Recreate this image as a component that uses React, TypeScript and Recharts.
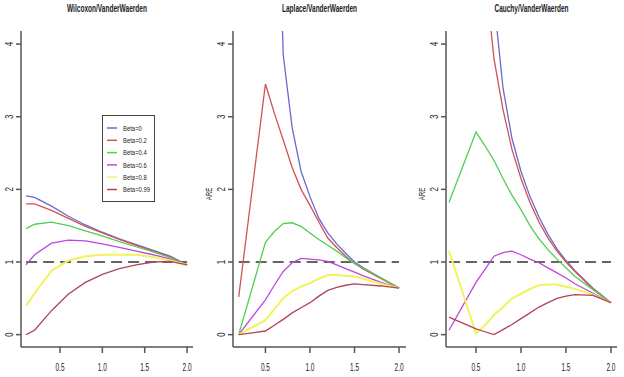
import React from "react";
import { LineChart, Line, XAxis, YAxis, ReferenceLine } from "recharts";

const FONT = "'Liberation Sans', Arial, sans-serif";

const betaLabels = ["Beta=0", "Beta=0.2", "Beta=0.4", "Beta=0.6", "Beta=0.8", "Beta=0.99"];
const betaColors = ["#6868d4", "#d25252", "#52cf52", "#c046e0", "#f2f25a", "#b0445a"];

const xTicks = [0.5, 1.0, 1.5, 2.0];
const yTicks = [0, 1, 2, 3, 4];

// Wilcoxon / VanderWaerden
const wilX = [0.1, 0.2, 0.4, 0.6, 0.8, 1.0, 1.2, 1.4, 1.6, 1.8, 2.0];
const wilB0 = [1.91, 1.89, 1.77, 1.63, 1.51, 1.41, 1.32, 1.24, 1.16, 1.08, 0.96];
const wilB2 = [1.8, 1.8, 1.71, 1.6, 1.49, 1.4, 1.31, 1.23, 1.15, 1.07, 0.96];
const wilB4 = [1.46, 1.52, 1.55, 1.5, 1.43, 1.36, 1.28, 1.21, 1.14, 1.06, 0.96];
const wilB6 = [0.96, 1.1, 1.26, 1.3, 1.29, 1.25, 1.2, 1.15, 1.1, 1.04, 0.96];
const wilB8 = [0.4, 0.57, 0.88, 1.02, 1.08, 1.1, 1.1, 1.1, 1.07, 1.02, 0.96];
const wilB99 = [0.0, 0.06, 0.33, 0.56, 0.72, 0.83, 0.91, 0.96, 1.0, 1.01, 0.96];

// Laplace / VanderWaerden
const lapX = [0.2, 0.5, 0.6, 0.7, 0.8, 0.9, 1.0, 1.1, 1.2, 1.3, 1.4, 1.5, 1.6, 1.8, 2.0];
const lapB0 = [40, 14, 8, 3.85, 2.85, 2.25, 1.9, 1.6, 1.4, 1.25, 1.12, 1.0, 0.92, 0.78, 0.64];
const lapB2 = [0.52, 3.45, 3.05, 2.68, 2.3, 2.0, 1.78, 1.55, 1.33, 1.2, 1.08, 0.98, 0.9, 0.77, 0.64];
const lapB4 = [0.0, 1.27, 1.42, 1.53, 1.54, 1.49, 1.4, 1.31, 1.23, 1.15, 1.06, 0.98, 0.91, 0.78, 0.64];
const lapB6 = [0.0, 0.48, 0.68, 0.87, 0.99, 1.05, 1.04, 1.03, 1.01, 0.96, 0.91, 0.86, 0.81, 0.72, 0.64];
const lapB8 = [0.0, 0.2, 0.35, 0.5, 0.6, 0.66, 0.71, 0.77, 0.82, 0.82, 0.81, 0.8, 0.77, 0.7, 0.64];
const lapB99 = [0.0, 0.05, 0.13, 0.21, 0.3, 0.37, 0.44, 0.53, 0.61, 0.65, 0.68, 0.7, 0.69, 0.67, 0.64];

// Cauchy / VanderWaerden
const cauX = [0.2, 0.5, 0.6, 0.7, 0.8, 0.9, 1.0, 1.1, 1.2, 1.3, 1.4, 1.5, 1.6, 1.8, 2.0];
const cauB0 = [60, 20, 10, 4.6, 3.4, 2.7, 2.25, 1.9, 1.62, 1.38, 1.18, 1.02, 0.88, 0.64, 0.44];
const cauB2 = [50, 15, 5.0, 3.8, 3.1, 2.55, 2.15, 1.82, 1.55, 1.33, 1.15, 1.0, 0.87, 0.63, 0.44];
const cauB4 = [1.82, 2.79, 2.6, 2.4, 2.15, 1.92, 1.72, 1.5, 1.32, 1.17, 1.04, 0.92, 0.8, 0.62, 0.44];
const cauB6 = [0.06, 0.72, 0.9, 1.08, 1.13, 1.15, 1.1, 1.04, 0.99, 0.92, 0.85, 0.78, 0.7, 0.57, 0.44];
const cauB8 = [1.15, 0.02, 0.13, 0.27, 0.38, 0.5, 0.56, 0.63, 0.68, 0.69, 0.69, 0.66, 0.63, 0.55, 0.44];
const cauB99 = [0.24, 0.08, 0.04, 0.0, 0.07, 0.14, 0.22, 0.3, 0.38, 0.44, 0.5, 0.53, 0.55, 0.54, 0.44];

const keys = ["b0", "b2", "b4", "b6", "b8", "b99"];

function buildRows(xs: number[], series: number[][]) {
  return xs.map((x, i) => {
    const row: Record<string, number> = { x };
    series.forEach((s, j) => (row[keys[j]] = s[i]));
    return row;
  });
}

// R output here is squeezed sideways, so text is drawn narrowed
const NarrowText = ({ x, y, rotate = 0, sx = 0.62, sy = 1, size = 10.5, weight = "normal", children }: any) => (
  <text
    transform={`translate(${x} ${y}) rotate(${rotate}) scale(${sx} ${sy})`}
    textAnchor="middle"
    fontSize={size}
    fontWeight={weight}
    fontFamily={FONT}
    fill="#222"
  >
    {children}
  </text>
);

const YTick = (props: any) => {
  const { x, y, payload } = props;
  return (
    <NarrowText x={x - 1} y={y} rotate={-90} sx={0.75}>
      {payload.value}
    </NarrowText>
  );
};

const XTick = (props: any) => {
  const { x, y, payload } = props;
  return (
    <NarrowText x={x} y={y + 16}>
      {payload.value.toFixed(1)}
    </NarrowText>
  );
};

type PanelProps = {
  title: string;
  titleWidth: number;
  rows: Record<string, number>[];
  xDomain: [number, number];
  dashFrom: number;
  boxLeft: number;
  boxRight: number;
  yLabel?: boolean;
};

const W = 624;
const H = 377;
const TOP = 31;
const BOTTOM = 347;

function Panel({ title, titleWidth, rows, xDomain, dashFrom, boxLeft, boxRight, yLabel }: PanelProps) {
  const mid = (boxLeft + boxRight) / 2;
  return (
    <>
      <svg style={{ position: "absolute", left: 0, top: 0 }} width={W} height={20}>
        <text
          x={mid - titleWidth / 2}
          y={12}
          textLength={titleWidth}
          lengthAdjust="spacingAndGlyphs"
          fontSize={10.5}
          fontWeight="bold"
          fontFamily={FONT}
          fill="#222"
        >
          {title}
        </text>
      </svg>
      <div style={{ position: "absolute", left: 0, top: 0 }}>
        <LineChart
          width={W}
          height={H}
          data={rows}
          margin={{ top: TOP, bottom: H - BOTTOM - 25, left: boxLeft - 20, right: W - boxRight }}
        >
          <XAxis
            dataKey="x"
            type="number"
            domain={xDomain}
            allowDataOverflow
            ticks={xTicks}
            tick={<XTick />}
            tickSize={6}
            height={25}
            stroke="#555"
            strokeWidth={1.5}
          />
          <XAxis xAxisId="top" orientation="top" dataKey="x" type="number" domain={xDomain} allowDataOverflow tick={false} tickLine={false} height={0} stroke="#555" strokeWidth={1.5} />
          <YAxis
            type="number"
            domain={[-0.17, 4.18]}
            allowDataOverflow
            ticks={yTicks}
            tick={<YTick />}
            tickSize={5}
            width={20}
            stroke="#555"
            strokeWidth={1.5}
            label={
              yLabel
                ? (p: any) => {
                    const vb = p.viewBox;
                    return (
                      <NarrowText x={vb.x - 1} y={vb.y + vb.height / 2 + 5} rotate={-90} sx={0.68} size={9}>
                        ARE
                      </NarrowText>
                    );
                  }
                : undefined
            }
          />
          <YAxis yAxisId="right" orientation="right" type="number" domain={[-0.17, 4.18]} tick={false} tickLine={false} width={0} stroke="#555" strokeWidth={1.5} />
          <ReferenceLine
            segment={[
              { x: dashFrom, y: 1 },
              { x: 2.0, y: 1 },
            ]}
            stroke="#333"
            strokeWidth={1.6}
            strokeDasharray="11 6"
          />
          {keys.map((k, i) => (
            <Line
              key={k}
              dataKey={k}
              type="linear"
              stroke={betaColors[i]}
              strokeWidth={i === 4 ? 2 : 1.3}
              dot={false}
              isAnimationActive={false}
            />
          ))}
        </LineChart>
      </div>
    </>
  );
}

function BetaLegend() {
  return (
    <svg style={{ position: "absolute", left: 102, top: 115 }} width={55} height={89}>
      <rect x={0.5} y={0.5} width={52} height={86} fill="#fff" stroke="#444" strokeWidth={1} />
      {betaLabels.map((l, i) => {
        const y = 13 + i * 12.3;
        return (
          <g key={l}>
            <line x1={5} x2={15} y1={y} y2={y} stroke={betaColors[i]} strokeWidth={1.5} />
            <text
              transform={`translate(21 ${y + 2.8}) scale(0.74 1)`}
              fontSize={8}
              fontFamily={FONT}
              fill="#222"
            >
              {l}
            </text>
          </g>
        );
      })}
    </svg>
  );
}

export default function App() {
  return (
    <div style={{ position: "absolute", left: 0, top: 0, width: W, height: H, background: "#fff", overflow: "hidden" }}>
      <Panel
        title="Wilcoxon/VanderWaerden"
        titleWidth={80}
        rows={buildRows(wilX, [wilB0, wilB2, wilB4, wilB6, wilB8, wilB99])}
        xDomain={[0.04, 2.07]}
        dashFrom={0.1}
        boxLeft={21}
        boxRight={193}
      />
      <Panel
        title="Laplace/VanderWaerden"
        titleWidth={75}
        rows={buildRows(lapX, [lapB0, lapB2, lapB4, lapB6, lapB8, lapB99])}
        xDomain={[0.136, 2.078]}
        dashFrom={0.2}
        boxLeft={233}
        boxRight={406}
        yLabel
      />
      <Panel
        title="Cauchy/VanderWaerden"
        titleWidth={74}
        rows={buildRows(cauX, [cauB0, cauB2, cauB4, cauB6, cauB8, cauB99])}
        xDomain={[0.167, 2.067]}
        dashFrom={0.2}
        boxLeft={446}
        boxRight={617}
        yLabel
      />
      <BetaLegend />
    </div>
  );
}
